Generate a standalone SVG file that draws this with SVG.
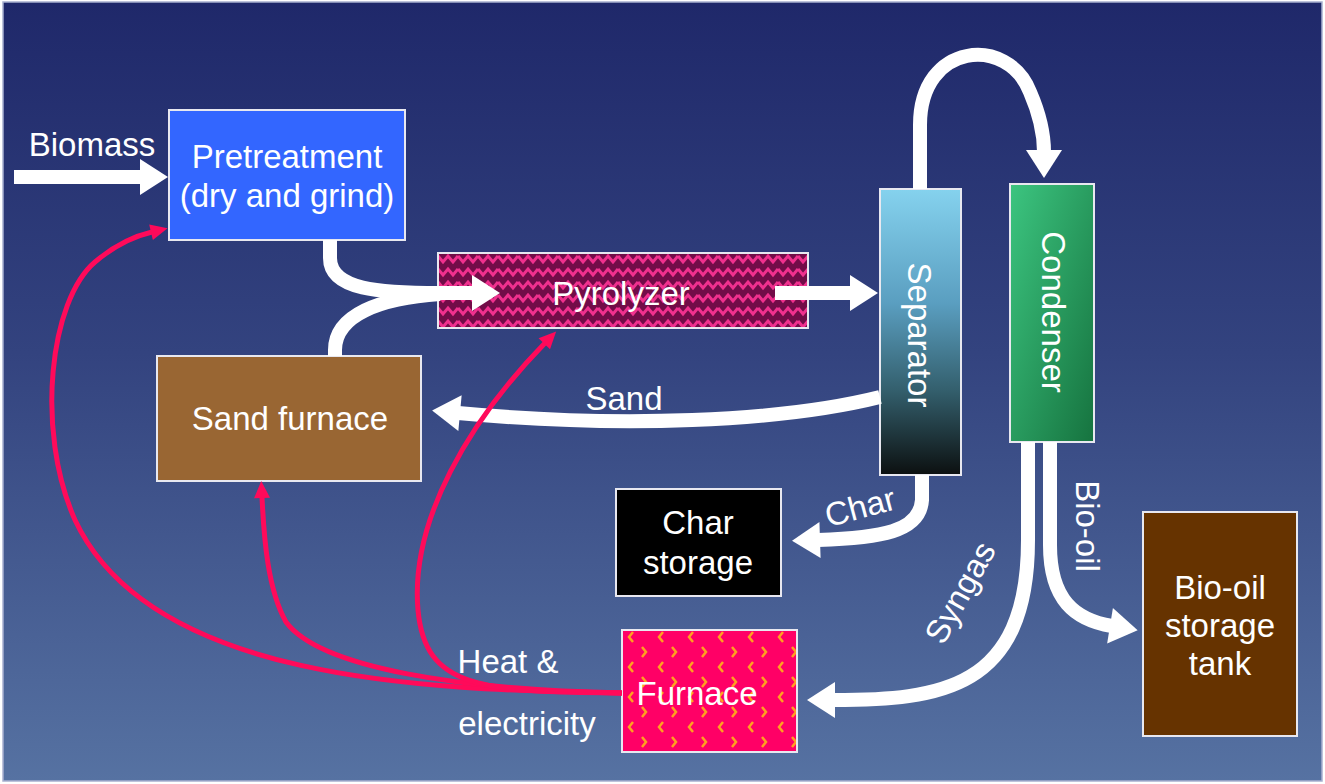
<svg xmlns="http://www.w3.org/2000/svg" width="1325" height="784" viewBox="0 0 1325 784">
<style>
.t{font-family:"Liberation Sans",Arial,sans-serif;font-size:33px;fill:#ffffff;text-anchor:middle}
.box{stroke:#e8e8f0;stroke-width:2}
.w{fill:none;stroke:#ffffff;stroke-width:14}
.r{fill:none;stroke:#ff0a5a;stroke-width:5}
.ch{fill:none;stroke:#ffa020;stroke-width:2.5}
</style>
<defs>
<linearGradient id="bg" x1="0" y1="0" x2="0" y2="1">
<stop offset="0" stop-color="#1f286a"/>
<stop offset="0.45" stop-color="#33437f"/>
<stop offset="1" stop-color="#5672a2"/>
</linearGradient>
<linearGradient id="sep" x1="0" y1="0" x2="0" y2="1">
<stop offset="0" stop-color="#85d2ee"/>
<stop offset="0.4" stop-color="#5a9ec0"/>
<stop offset="0.7" stop-color="#34606e"/>
<stop offset="1" stop-color="#0c1010"/>
</linearGradient>
<linearGradient id="con" x1="0" y1="0" x2="1" y2="1">
<stop offset="0" stop-color="#3cc580"/>
<stop offset="1" stop-color="#16733f"/>
</linearGradient>
<pattern id="zig" patternUnits="userSpaceOnUse" x="438" y="253" width="20" height="13">
<rect width="20" height="13" fill="#720c48"/>
<path d="M0,3 L5,9 L10,3 L15,9 L20,3" fill="none" stroke="#f0308e" stroke-width="3"/>
</pattern>
<pattern id="chev" patternUnits="userSpaceOnUse" x="622" y="630" width="30" height="30">
<rect width="30" height="30" fill="#ff0066"/>
<path class="ch" d="M11,2 L7,7 L11,12"/>
<path class="ch" d="M20,17 L24,22 L20,27"/>
</pattern>
<marker id="wh" markerUnits="userSpaceOnUse" markerWidth="30" markerHeight="36" refX="2" refY="18" orient="auto" overflow="visible">
<path d="M0,0 L28,18 L0,36 z" fill="#ffffff"/>
</marker>
<marker id="rh" markerUnits="userSpaceOnUse" markerWidth="18" markerHeight="16" refX="1" refY="8" orient="auto" overflow="visible">
<path d="M0,0 L17,8 L0,16 z" fill="#ff0a5a"/>
</marker>
</defs>
<rect x="0" y="0" width="1325" height="784" fill="#ffffff"/>
<rect x="3" y="2" width="1319" height="779" fill="url(#bg)" stroke="#a8b0d0" stroke-width="1.5"/>

<g id="pretreatment">
<rect class="box" x="169" y="110" width="236" height="130" fill="#3366ff"/>
<text class="t" x="287" y="168">Pretreatment</text>
<text class="t" x="287" y="207">(dry and grind)</text>
</g>
<g id="pyrolyzer">
<rect class="box" x="438" y="253" width="370" height="75" fill="url(#zig)"/>
<text class="t" x="621" y="305">Pyrolyzer</text>
</g>
<g id="separator">
<rect class="box" x="880" y="189" width="81" height="286" fill="url(#sep)"/>
<text class="t" transform="translate(908,335) rotate(90)">Separator</text>
</g>
<g id="condenser">
<rect class="box" x="1010" y="184" width="84" height="258" fill="url(#con)"/>
<text class="t" transform="translate(1042,312) rotate(90)">Condenser</text>
</g>
<g id="sand-furnace">
<rect class="box" x="157" y="356" width="264" height="125" fill="#996633"/>
<text class="t" x="290" y="430">Sand furnace</text>
</g>
<g id="char-storage">
<rect class="box" x="616" y="489" width="165" height="107" fill="#000000"/>
<text class="t" x="698" y="534">Char</text>
<text class="t" x="698" y="574">storage</text>
</g>
<g id="furnace">
<rect class="box" x="622" y="630" width="175" height="122" fill="url(#chev)"/>
<text class="t" x="697" y="705">Furnace</text>
</g>
<g id="bio-oil-tank">
<rect class="box" x="1143" y="512" width="154" height="224" fill="#663300"/>
<text class="t" x="1220" y="599">Bio-oil</text>
<text class="t" x="1220" y="637">storage</text>
<text class="t" x="1220" y="675">tank</text>
</g>

<g id="connectors">
<path class="w" d="M14,177 L142,177" marker-end="url(#wh)"/>
<path class="w" d="M330,240 L330,258 C330,290 380,293 440,293 L474,293" marker-end="url(#wh)"/>
<path class="w" d="M335,356 L335,350 C335,315 380,298 440,294"/>
<path class="w" d="M775,293 L852,293" marker-end="url(#wh)"/>
<path class="w" d="M920,189 L920,125 C920,42 1008,35 1030,92 C1040,115 1044,132 1044,152" marker-end="url(#wh)"/>
<path class="w" d="M880,397 C780,422 620,428 458,413" marker-end="url(#wh)"/>
<path class="w" d="M922,475 L922,500 C920,532 880,538 818,540" marker-end="url(#wh)"/>
<path class="w" d="M1028,442 L1028,540 C1028,690 940,700 833,700" marker-end="url(#wh)"/>
<path class="w" d="M1050,442 L1050,545 C1050,600 1075,620 1112,626" marker-end="url(#wh)"/>
<path class="r" d="M622,693 C420,690 150,680 75,520 C35,430 50,300 95,262 C115,245 135,236 152,232" marker-end="url(#rh)"/>
<path class="r" d="M622,693 C460,690 320,668 286,622 C268,590 264,540 262,497" marker-end="url(#rh)"/>
<path class="r" d="M622,693 C480,692 425,688 418,610 C410,520 470,420 545,343" marker-end="url(#rh)"/>
</g>

<text class="t" x="92" y="156">Biomass</text>
<text class="t" x="624" y="410">Sand</text>
<text class="t" transform="translate(863,518) rotate(-15)">Char</text>
<text class="t" transform="translate(970,598) rotate(-61)">Syngas</text>
<text class="t" transform="translate(1076,526) rotate(90)">Bio-oil</text>
<text class="t" x="508" y="673">Heat &amp;</text>
<text class="t" x="527" y="735">electricity</text>
</svg>
